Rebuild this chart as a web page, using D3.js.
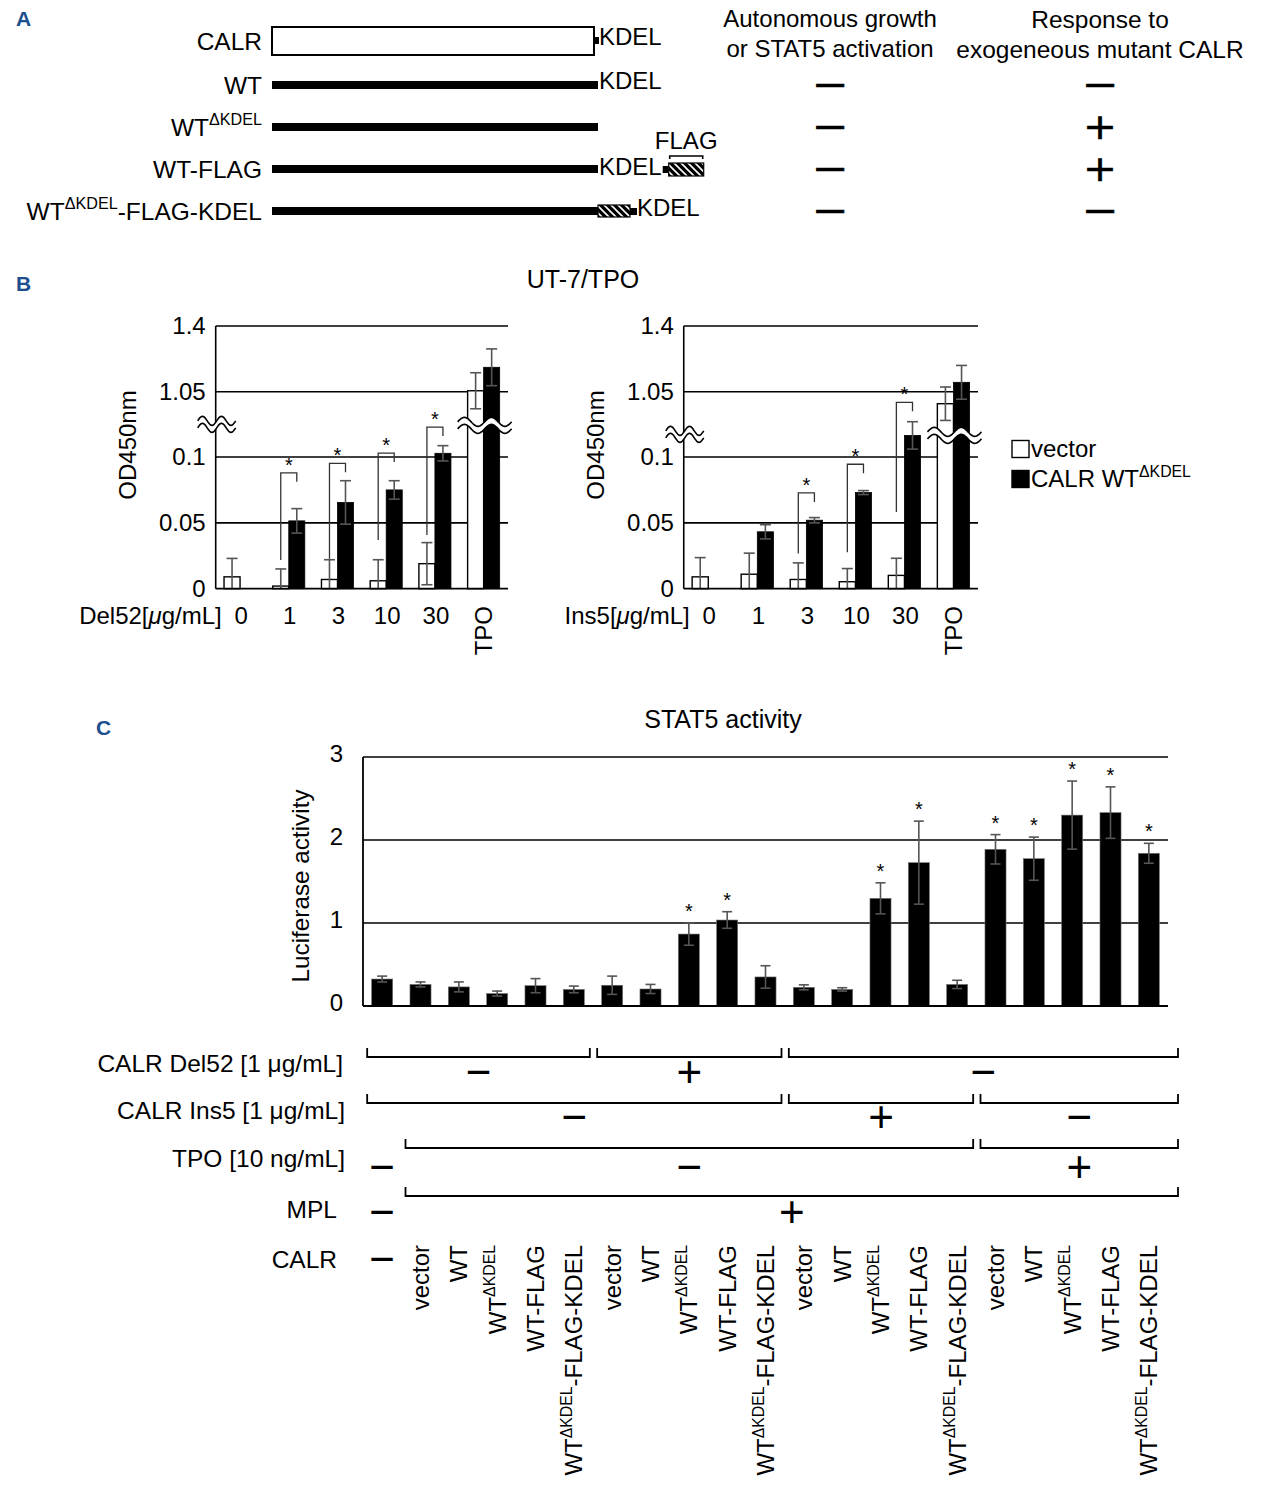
<!DOCTYPE html>
<html>
<head>
<meta charset="utf-8">
<script src="https://cdn.jsdelivr.net/npm/d3@7/dist/d3.min.js"></script>
<style>
html,body{margin:0;padding:0;background:#fff;}
svg{display:block;}
text{font-family:"Liberation Sans",Arial,Helvetica,sans-serif;fill:#000;}
</style>
</head>
<body>
<svg id="fig" width="1276" height="1494" viewBox="0 0 1276 1494"></svg>
<script>
// ================= DATA =================
// Panel A
const constructs = ["CALR", "WT", "WT^{ΔKDEL}", "WT-FLAG", "WT^{ΔKDEL}-FLAG-KDEL"];
const constructKdel = ["nub", "end", "none", "end", "after-flag"];
const constructFlag = ["none", "none", "none", "after-kdel", "before-kdel"];
const autonomousGrowth = [null, "−", "−", "−", "−"];
const responseToMutant = [null, "−", "+", "+", "−"];
const headerAutonomous = ["Autonomous growth", "or STAT5 activation"];
const headerResponse = ["Response to", "exogeneous mutant CALR"];

// Panel B
const titleB = "UT-7/TPO";
const doseLabels = ["0", "1", "3", "10", "30", "TPO"];
const seriesB = ["vector", "CALR WT^{ΔKDEL}"];
const bTicks = [0, 0.05, 0.1, 1.05, 1.4];
const del52Vector    = [0.009, 0.002, 0.007, 0.006, 0.019, 1.055];
const del52VectorErr = [0.014, 0.013, 0.015, 0.016, 0.016, 0.096];
const del52Calr      = [0, 0.0515, 0.0655, 0.075, 0.1028, 1.18];
const del52CalrErr   = [0, 0.0093, 0.0165, 0.007, 0.0058, 0.098];
const del52SigDose   = ["1", "3", "10", "30"];
const del52SigTop    = [0.088, 0.0952, 0.103, 0.1227];
const del52SigLow    = [0.0217, 0.0227, 0.0369, 0.0407];
const ins5Vector     = [0.009, 0.011, 0.007, 0.0053, 0.0101, 0.986];
const ins5VectorErr  = [0.0146, 0.016, 0.0126, 0.010, 0.013, 0.089];
const ins5Calr       = [0, 0.0432, 0.052, 0.073, 0.1164, 1.10];
const ins5CalrErr    = [0, 0.0054, 0.002, 0.0015, 0.0104, 0.090];
const ins5SigDose    = ["3", "10", "30"];
const ins5SigTop     = [0.0727, 0.0945, 0.1415];
const ins5SigLow     = [0.0268, 0.0276, 0.0583];

// Panel C
const titleC = "STAT5 activity";
const cTicks = [0, 1, 2, 3];
const calrLabels = ["−",
  "vector", "WT", "WT^{ΔKDEL}", "WT-FLAG", "WT^{ΔKDEL}-FLAG-KDEL",
  "vector", "WT", "WT^{ΔKDEL}", "WT-FLAG", "WT^{ΔKDEL}-FLAG-KDEL",
  "vector", "WT", "WT^{ΔKDEL}", "WT-FLAG", "WT^{ΔKDEL}-FLAG-KDEL",
  "vector", "WT", "WT^{ΔKDEL}", "WT-FLAG", "WT^{ΔKDEL}-FLAG-KDEL"];
const lucMean = [0.325, 0.26, 0.23, 0.15, 0.245, 0.20, 0.25, 0.205, 0.867, 1.036,
                 0.35, 0.225, 0.20, 1.297, 1.727, 0.26, 1.888, 1.775, 2.30, 2.33, 1.84];
const lucErr  = [0.035, 0.03, 0.06, 0.03, 0.085, 0.04, 0.11, 0.055, 0.135, 0.10,
                 0.135, 0.03, 0.02, 0.187, 0.50, 0.05, 0.177, 0.26, 0.41, 0.31, 0.12];
const lucSig  = [0,0,0,0,0,0,0,0,1,1,0,0,0,1,1,0,1,1,1,1,1];
const condLabels = ["CALR Del52 [1 μg/mL]", "CALR Ins5 [1 μg/mL]", "TPO [10 ng/mL]", "MPL"];
const del52Segments = [{from:0,to:5,sign:"−"},{from:6,to:10,sign:"+"},{from:11,to:20,sign:"−"}];
const ins5Segments  = [{from:0,to:10,sign:"−"},{from:11,to:15,sign:"+"},{from:16,to:20,sign:"−"}];
const tpoSegments   = [{from:0,to:0,sign:"−",single:true},{from:1,to:15,sign:"−"},{from:16,to:20,sign:"+"}];
const mplSegments   = [{from:0,to:0,sign:"−",single:true},{from:1,to:20,sign:"+"}];

// ================= HELPERS =================
const svg = d3.select("#fig");
const GRAY = "#555";

function richText(sel, str, size, firstDy) {
  const re = /\^\{([^}]*)\}/g;
  const parts = [];
  let last = 0, m;
  while ((m = re.exec(str)) !== null) {
    if (m.index > last) parts.push({ t: str.slice(last, m.index), sup: false });
    parts.push({ t: m[1], sup: true });
    last = re.lastIndex;
  }
  if (last < str.length) parts.push({ t: str.slice(last), sup: false });
  const shift = size * 0.42;
  let cur = 0;
  parts.forEach((p, i) => {
    const ts = sel.append("tspan").text(p.t);
    let dy = (i === 0 ? (firstDy || 0) : 0);
    if (p.sup) { ts.attr("font-size", size * 0.66); dy += -shift - cur; cur = -shift; }
    else { dy += -cur; cur = 0; }
    if (dy !== 0) ts.attr("dy", dy);
  });
  return sel;
}
function label(g, x, y, str, size, anchor) {
  const t = g.append("text").attr("x", x).attr("y", y)
    .attr("font-size", size).attr("text-anchor", anchor || "start");
  richText(t, str, size, size * 0.35);
  return t;
}
function rotLabel(g, x, y, str, size, anchor) {
  const t = g.append("text").attr("transform", `translate(${x},${y}) rotate(-90)`)
    .attr("font-size", size).attr("text-anchor", anchor || "middle");
  richText(t, str, size, size * 0.35);
  return t;
}
function sign(g, x, y, s, size) {
  return g.append("text").attr("x", x).attr("y", y + size * 0.34)
    .attr("font-size", size).attr("text-anchor", "middle").text(s);
}
// compact sign for the tightly spaced table of panel A (DejaVu glyphs are large in their em box)
function signA(g, x, y, s) {
  const size = 36;
  const t = g.append("text").attr("x", x).attr("y", y + size * 0.33)
    .attr("font-size", size).attr("text-anchor", "middle")
    .style("font-family", '"DejaVu Sans", sans-serif').text(s);
  if (s === "−") t.attr("textLength", 37).attr("lengthAdjust", "spacingAndGlyphs");
  else t.attr("textLength", 34).attr("lengthAdjust", "spacingAndGlyphs");
  t.attr("stroke", "#000").attr("stroke-width", 0.5);
  return t;
}

// panel letters
[["A", 16, 18], ["B", 16, 283], ["C", 96, 727]].forEach(([t, x, y]) => {
  svg.append("text").attr("x", x).attr("y", y + 7.5).attr("font-size", 21)
    .attr("font-weight", "bold").style("fill", "#1d4f8f").text(t);
});

// hatch pattern
const defs = svg.append("defs");
const pat = defs.append("pattern").attr("id", "hatch").attr("patternUnits", "userSpaceOnUse")
  .attr("width", 7).attr("height", 7);
pat.append("rect").attr("width", 7).attr("height", 7).attr("fill", "#000");
pat.append("path").attr("d", "M-1,-1 L8,8 M-4,3 L3,10 M3,-4 L10,3").attr("stroke", "#fff").attr("stroke-width", 1.6);

// ================= PANEL A =================
const gA = svg.append("g");
const rowA = d3.scalePoint().domain(constructs).range([43, 211]);
const xA = d3.scaleLinear().domain([0, 1]).range([272, 598]);

constructs.forEach((c, i) => {
  const y = rowA(c);
  label(gA, 262, i === 0 ? y - 2 : y, c, 24.5, "end");
  if (constructKdel[i] === "nub") {
    gA.append("rect").attr("x", xA(0)).attr("y", y - 16).attr("width", xA(1) - xA(0) - 4)
      .attr("height", 28).attr("fill", "#fff").attr("stroke", "#000").attr("stroke-width", 2);
    gA.append("rect").attr("x", xA(1) - 4).attr("y", y - 6).attr("width", 5).attr("height", 7).attr("fill", "#000");
    label(gA, xA(1) + 1, y - 6, "KDEL", 24, "start");
    return;
  }
  gA.append("line").attr("x1", xA(0)).attr("x2", xA(1)).attr("y1", y).attr("y2", y)
    .attr("stroke", "#000").attr("stroke-width", 8);
  if (constructFlag[i] === "after-kdel") {
    const t = label(gA, xA(1) + 1, y - 2, "KDEL", 24, "start");
    const tw = t.node().getComputedTextLength();
    const nx = xA(1) + 2 + tw;
    gA.append("rect").attr("x", nx).attr("y", y - 3).attr("width", 6).attr("height", 7).attr("fill", "#000");
    const bx = nx + 6, bw = 35;
    gA.append("rect").attr("x", bx).attr("y", y - 6).attr("width", bw).attr("height", 13)
      .attr("fill", "url(#hatch)").attr("stroke", "#000").attr("stroke-width", 1.2);
    gA.append("path").attr("d", `M${bx + 1},${y - 10} V${y - 13} H${bx + bw - 1} V${y - 10}`)
      .attr("fill", "none").attr("stroke", "#000").attr("stroke-width", 1.6);
    label(gA, bx + bw / 2, y - 28, "FLAG", 24, "middle");
  } else if (constructFlag[i] === "before-kdel") {
    const bx = xA(1), bw = 32;
    gA.append("rect").attr("x", bx).attr("y", y - 6).attr("width", bw).attr("height", 12)
      .attr("fill", "url(#hatch)").attr("stroke", "#000").attr("stroke-width", 1.2);
    gA.append("rect").attr("x", bx + bw).attr("y", y - 3).attr("width", 7).attr("height", 7).attr("fill", "#000");
    label(gA, bx + bw + 7, y - 3, "KDEL", 24, "start");
  } else if (constructKdel[i] === "end") {
    label(gA, xA(1) + 1, y - 4, "KDEL", 24, "start");
  }
});
headerAutonomous.forEach((h, k) => label(gA, 830, 19 + 30 * k, h, 24, "middle"));
headerResponse.forEach((h, k) => label(gA, 1100, 19 + 30 * k, h, 24.5, "middle"));
constructs.forEach((c, i) => {
  const y = rowA(c);
  if (autonomousGrowth[i]) signA(gA, 830, y, autonomousGrowth[i]);
  if (responseToMutant[i]) signA(gA, 1100, y, responseToMutant[i]);
});

// ================= PANEL B =================
const gB = svg.append("g");
label(gB, 583, 279, titleB, 25, "middle");
const yLow = d3.scaleLinear().domain([0, 0.1]).range([588.7, 457]);
const yHigh = d3.scaleLinear().domain([1.05, 1.4]).range([391.7, 326]);
const yB = v => (v < 0.5 ? yLow(v) : yHigh(v));

function squiggle(g, cx, cy, w) {
  const amp = 4.5, gap = 7, n = 48;
  const x0 = cx - w / 2;
  const pts = d3.range(n + 1).map(i => {
    const t = i / n;
    return [x0 + w * t, -amp * Math.sin(2 * Math.PI * 2 * t)];
  });
  const top = pts.map(([x, d]) => [x, cy - gap / 2 + d]);
  const bot = pts.map(([x, d]) => [x, cy + gap / 2 + d]);
  const line = d3.line();
  g.append("path").attr("d", line(top.concat(bot.slice().reverse())) + "Z")
    .attr("fill", "#fff").attr("stroke", "none");
  g.append("path").attr("d", line(top)).attr("fill", "none").attr("stroke", "#000").attr("stroke-width", 1.6);
  g.append("path").attr("d", line(bot)).attr("fill", "none").attr("stroke", "#000").attr("stroke-width", 1.6);
}

function drawB(o) {
  const g = gB.append("g");
  const xb = d3.scaleBand().domain(doseLabels).range([o.x0, o.x1]);
  const xs = d3.scaleBand().domain(seriesB).range([0, xb.bandwidth()]).paddingOuter(0.52);
  g.selectAll("line.grid").data(bTicks.filter(t => t > 0)).join("line").attr("class", "grid")
    .attr("x1", o.x0).attr("x2", o.x1).attr("y1", d => yB(d)).attr("y2", d => yB(d))
    .attr("stroke", "#000").attr("stroke-width", 1.6);
  bTicks.forEach(t => label(g, o.x0 - 10, yB(t), String(t), 24, "end"));
  const vals = [o.vec, o.calr], errs = [o.vecErr, o.calrErr];
  seriesB.forEach((s, si) => {
    const data = doseLabels.map((d, di) => ({ d, v: vals[si][di], e: errs[si][di] }));
    g.selectAll(null).data(data).join("rect")
      .attr("x", r => xb(r.d) + xs(s)).attr("y", r => yB(r.v))
      .attr("width", xs.bandwidth()).attr("height", r => yB(0) - yB(r.v))
      .attr("fill", si ? "#000" : "#fff").attr("stroke", "#000").attr("stroke-width", si ? 0.8 : 1.4);
  });
  seriesB.forEach((s, si) => {
    doseLabels.forEach((d, di) => {
      const v = vals[si][di], e = errs[si][di];
      if (!e) return;
      const cx = xb(d) + xs(s) + xs.bandwidth() / 2;
      const lo = Math.max(0, v - e), hi = v + e;
      g.append("line").attr("x1", cx).attr("x2", cx).attr("y1", yB(lo)).attr("y2", yB(hi))
        .attr("stroke", GRAY).attr("stroke-width", 1.6);
      g.append("line").attr("x1", cx - 5.5).attr("x2", cx + 5.5).attr("y1", yB(hi)).attr("y2", yB(hi))
        .attr("stroke", GRAY).attr("stroke-width", 1.6);
      if (v - e > 0) g.append("line").attr("x1", cx - 5.5).attr("x2", cx + 5.5).attr("y1", yB(lo)).attr("y2", yB(lo))
        .attr("stroke", GRAY).attr("stroke-width", 1.6);
    });
  });
  g.append("line").attr("x1", o.x0).attr("x2", o.x0).attr("y1", yB(0)).attr("y2", yB(1.4))
    .attr("stroke", "#000").attr("stroke-width", 1.6);
  g.append("line").attr("x1", o.x0).attr("x2", o.x1).attr("y1", yB(0)).attr("y2", yB(0))
    .attr("stroke", "#000").attr("stroke-width", 1.8);
  o.sigDose.forEach((d, k) => {
    const vc = xb(d) + xs(seriesB[0]) + xs.bandwidth() / 2;
    const cc = xb(d) + xs(seriesB[1]) + xs.bandwidth() / 2;
    const yt = yB(o.sigTop[k]);
    g.append("path").attr("d", `M${vc},${yB(o.sigLow[k])} V${yt} H${cc} V${yt + 9}`)
      .attr("fill", "none").attr("stroke", "#333").attr("stroke-width", 1.3);
    g.append("text").attr("x", (vc + cc) / 2).attr("y", yt - 1).attr("font-size", 20)
      .attr("text-anchor", "middle").text("*");
  });
  const midY = (yLow(0.1) + yHigh(1.05)) / 2 + o.breakDy;
  squiggle(g, o.x0 + 1, midY, 38);
  squiggle(g, xb("TPO") + xb.bandwidth() / 2 + 1, midY + 1, 54);
  doseLabels.forEach(d => {
    const cx = xb(d) + xb.bandwidth() / 2;
    if (d === "TPO") rotLabel(g, cx, 606, d, 24, "end");
    else label(g, cx + 1, 616, d, 24, "middle");
  });
  const xl = g.append("text").attr("x", o.x0 + 6).attr("y", 616 + 24 * 0.35)
    .attr("font-size", 24).attr("text-anchor", "end");
  xl.append("tspan").text(o.xPrefix + "[");
  xl.append("tspan").attr("font-style", "italic").text("μ");
  xl.append("tspan").text("g/mL]");
  rotLabel(g, o.x0 - 88, 445, "OD450nm", 24, "middle");
}

drawB({ x0: 215.7, x1: 508, vec: del52Vector, vecErr: del52VectorErr, calr: del52Calr, calrErr: del52CalrErr,
        sigDose: del52SigDose, sigTop: del52SigTop, sigLow: del52SigLow, xPrefix: "Del52", breakDy: 0 });
drawB({ x0: 683.75, x1: 978, vec: ins5Vector, vecErr: ins5VectorErr, calr: ins5Calr, calrErr: ins5CalrErr,
        sigDose: ins5SigDose, sigTop: ins5SigTop, sigLow: ins5SigLow, xPrefix: "Ins5", breakDy: 10 });

const leg = gB.append("g");
seriesB.forEach((s, k) => {
  const y = 449 + 30 * k;
  leg.append("rect").attr("x", 1012).attr("y", y - 8.5).attr("width", 17).attr("height", 17)
    .attr("fill", k ? "#000" : "#fff").attr("stroke", "#000").attr("stroke-width", 1.4);
  label(leg, 1031, y, s, 24, "start");
});

// ================= PANEL C =================
const gC = svg.append("g");
const xC = d3.scaleBand().domain(d3.range(lucMean.length)).range([363, 1168])
  .paddingInner(0.45).paddingOuter(0.225);
const yC = d3.scaleLinear().domain([0, 3]).range([1006, 757]);
const cxC = i => xC(i) + xC.bandwidth() / 2;

label(gC, 723, 719, titleC, 25, "middle");
rotLabel(gC, 300, 886, "Luciferase activity", 24.3, "middle");
gC.selectAll("line.gridC").data(cTicks.filter(t => t > 0)).join("line").attr("class", "gridC")
  .attr("x1", 363).attr("x2", 1168).attr("y1", d => yC(d)).attr("y2", d => yC(d))
  .attr("stroke", "#000").attr("stroke-width", 1.6);
cTicks.forEach(t => label(gC, 343, yC(t) - 3, String(t), 24, "end"));

const cData = lucMean.map((v, i) => ({ i, v, e: lucErr[i], s: lucSig[i] }));
gC.selectAll("rect.barC").data(cData).join("rect").attr("class", "barC")
  .attr("x", d => xC(d.i)).attr("y", d => yC(d.v)).attr("width", xC.bandwidth())
  .attr("height", d => yC(0) - yC(d.v)).attr("fill", "#000").attr("stroke", "#777").attr("stroke-width", 0.6);
cData.forEach(d => {
  const cx = cxC(d.i);
  const lo = yC(d.v - d.e), hi = yC(d.v + d.e);
  gC.append("line").attr("x1", cx).attr("x2", cx).attr("y1", lo).attr("y2", hi).attr("stroke", GRAY).attr("stroke-width", 1.6);
  [lo, hi].forEach(yy => gC.append("line").attr("x1", cx - 5).attr("x2", cx + 5).attr("y1", yy).attr("y2", yy)
    .attr("stroke", GRAY).attr("stroke-width", 1.6));
  if (d.s) gC.append("text").attr("x", cx).attr("y", hi - 5).attr("font-size", 20)
    .attr("text-anchor", "middle").text("*");
});
gC.append("line").attr("x1", 363).attr("x2", 363).attr("y1", yC(0)).attr("y2", yC(3)).attr("stroke", "#000").attr("stroke-width", 1.8);
gC.append("line").attr("x1", 363).attr("x2", 1168).attr("y1", yC(0)).attr("y2", yC(0)).attr("stroke", "#000").attr("stroke-width", 2);

const rowSegs = [del52Segments, ins5Segments, tpoSegments, mplSegments];
const rowLineY = [1057, 1103, 1148, 1196];
const rowSignY = [1072, 1117, 1167, 1212];
const rowLabelY = [1063, 1110, 1158, 1209];
const rowLabelX = [343, 345, 345, 337];
condLabels.forEach((lab, r) => {
  label(gC, rowLabelX[r], rowLabelY[r], lab, 24.5, "end");
  rowSegs[r].forEach(seg => {
    if (seg.single) { sign(gC, cxC(seg.from), rowSignY[r], seg.sign, 44); return; }
    const left = cxC(seg.from) - 15;
    const right = seg.to === lucMean.length - 1 ? xC.range()[1] + 10 : cxC(seg.to) + 16;
    const ly = rowLineY[r];
    gC.append("path").attr("d", `M${left},${ly - 9} V${ly} H${right} V${ly - 9}`)
      .attr("fill", "none").attr("stroke", "#000").attr("stroke-width", 1.8);
    sign(gC, (left + right) / 2, rowSignY[r], seg.sign, 44);
  });
});
label(gC, 337, 1259, "CALR", 24.5, "end");
calrLabels.forEach((lab, i) => {
  if (i === 0) sign(gC, cxC(0), 1259, lab, 44);
  else rotLabel(gC, cxC(i), 1245, lab, 24, "end");
});
</script>
</body>
</html>
